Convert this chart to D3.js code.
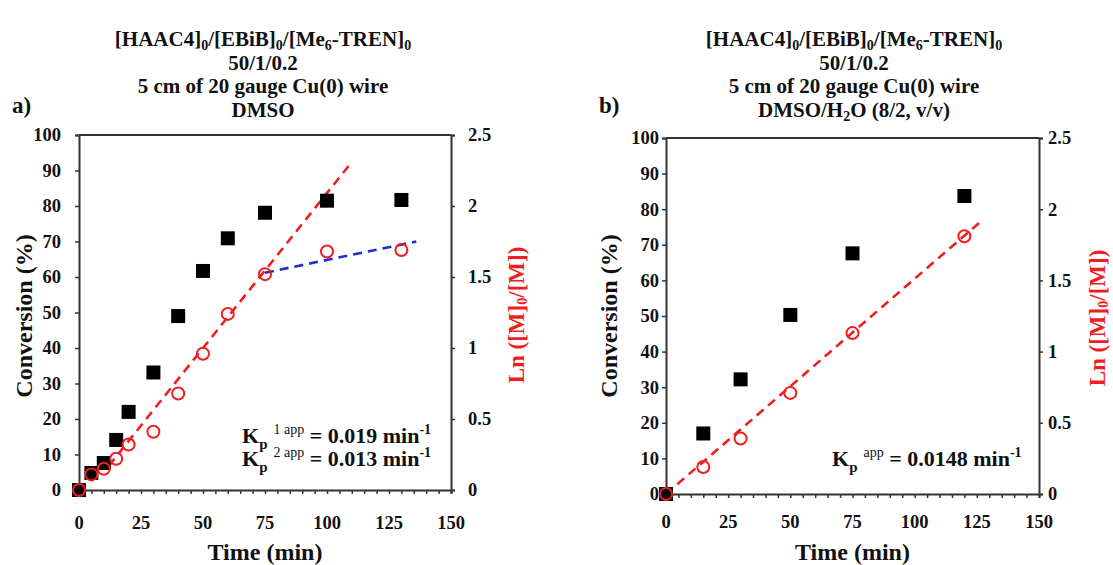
<!DOCTYPE html>
<html>
<head>
<meta charset="utf-8">
<script src="https://cdn.jsdelivr.net/npm/d3@7"></script>
<style>
  html, body { margin: 0; padding: 0; background: #fff; }
  svg { display: block; font-family: "Liberation Serif", "Times New Roman", serif; font-weight: bold; }
</style>
</head>
<body>
<svg id="chart" width="1113" height="565"></svg>
<script>
// ---- data: panel a (DMSO) ----
const timeA = [0, 5, 10, 15, 20, 30, 40, 50, 60, 75, 100, 130];
const convA = [0, 4.8, 7.6, 14.1, 22.0, 33.1, 49.0, 61.7, 70.9, 78.1, 81.5, 81.7];
const lnA   = [0, 0.11, 0.15, 0.22, 0.32, 0.41, 0.68, 0.96, 1.24, 1.52, 1.68, 1.69];
const fitA1Time = [12, 110];
const fitA1Ln   = [0.17, 2.31];
const fitA2Time = [75, 136];
const fitA2Ln   = [1.53, 1.75];

// ---- data: panel b (DMSO/H2O) ----
const timeB = [0, 15, 30, 50, 75, 120];
const convB = [0, 17.0, 32.2, 50.3, 67.6, 83.7];
const lnB   = [0, 0.19, 0.39, 0.71, 1.13, 1.81];
const fitBTime = [0, 127];
const fitBLn   = [0, 1.92];

// ---- ticks ----
const timeTicks = [0, 25, 50, 75, 100, 125, 150];
const convTicks = [0, 10, 20, 30, 40, 50, 60, 70, 80, 90, 100];
const lnTicks = [0, 0.5, 1, 1.5, 2, 2.5];
const lnTickLabels = ["0", "0.5", "1", "1.5", "2", "2.5"];

const svg = d3.select("#chart");
const RED = "#f01e1e", BLUE = "#1f2fd6", AXIS = "#333";

function drawPanel(p) {
  const x = d3.scaleLinear().domain([0, 150]).range([p.x0, p.x1]);
  const yC = d3.scaleLinear().domain([0, 100]).range([p.yB, p.yT]);
  const yL = d3.scaleLinear().domain([0, 2.5]).range([p.yB, p.yT]);
  const g = svg.append("g");

  // title block
  const title = g.append("text").attr("text-anchor", "middle").attr("font-size", 21).attr("fill", "#111");
  p.titleLines.forEach((parts, i) => {
    const line = title.append("tspan").attr("x", p.titleX).attr("y", p.titleY + i * 23.5);
    parts.forEach(seg => {
      if (typeof seg === "string") line.append("tspan").text(seg);
      else line.append("tspan").attr("font-size", 14).attr("baseline-shift", "-25%").text(seg.sub);
    });
  });
  g.append("text").attr("x", p.tagX).attr("y", p.tagY).attr("font-size", 23).attr("fill", "#111").text(p.tag);

  // frame: top edge
  g.append("line").attr("x1", p.x0).attr("x2", p.x1).attr("y1", p.yT).attr("y2", p.yT)
    .attr("stroke", AXIS).attr("stroke-width", 2);

  // axes
  const bottom = g.append("g").attr("transform", `translate(0,${p.yB})`)
    .call(d3.axisBottom(x).tickValues(d3.range(0, 151, 5)).tickSize(4).tickFormat(""));
  const left = g.append("g").attr("transform", `translate(${p.x0},0)`)
    .call(d3.axisLeft(yC).tickValues(convTicks).tickSize(4).tickFormat(""));
  const right = g.append("g").attr("transform", `translate(${p.x1},0)`)
    .call(d3.axisRight(yL).tickValues(lnTicks).tickSize(4).tickFormat(""));
  [bottom, left, right].forEach(a => {
    a.select(".domain").attr("stroke", AXIS).attr("stroke-width", 2);
    a.selectAll(".tick line").attr("stroke", AXIS).attr("stroke-width", 1.5);
  });

  // tick labels
  g.selectAll(null).data(timeTicks).join("text")
    .attr("x", d => x(d)).attr("y", p.xLabY).attr("text-anchor", "middle")
    .attr("font-size", 18.5).attr("fill", "#111").text(d => d);
  g.selectAll(null).data(convTicks).join("text")
    .attr("x", p.x0 - p.leftGap).attr("y", d => yC(d)).attr("dy", "0.35em").attr("text-anchor", "end")
    .attr("font-size", 18.5).attr("fill", "#111").text(d => d);
  g.selectAll(null).data(lnTicks).join("text")
    .attr("x", p.x1 + p.rightGap).attr("y", d => yL(d)).attr("dy", "0.35em")
    .attr("font-size", 18.5).attr("fill", "#111").text((d, i) => lnTickLabels[i]);

  // axis titles
  g.append("text").attr("x", (p.x0 + p.x1) / 2).attr("y", p.xTitleY).attr("text-anchor", "middle")
    .attr("font-size", 24).attr("fill", "#111").text("Time (min)");
  g.append("text").attr("transform", `translate(${p.convX},${p.convY}) rotate(-90)`)
    .attr("text-anchor", "middle").attr("font-size", 24).attr("fill", "#111").text("Conversion (%)");
  const ln = g.append("text").attr("transform", `translate(${p.lnX},${p.lnY}) rotate(-90)`)
    .attr("text-anchor", "middle").attr("font-size", 23).attr("fill", RED);
  ln.append("tspan").text("Ln ([M]");
  ln.append("tspan").attr("font-size", 14).attr("baseline-shift", "-20%").text("0");
  ln.append("tspan").text("/[M])");

  // fitted lines
  const line = d3.line().x(d => x(d[0])).y(d => yL(d[1]));
  p.fits.forEach(f => {
    g.append("path").datum(d3.zip(f.t, f.ln)).attr("d", line)
      .attr("fill", "none").attr("stroke", f.color).attr("stroke-width", 2.6)
      .attr("stroke-dasharray", "9,6");
  });

  // conversion: filled squares
  const s = 14;
  g.selectAll(null).data(d3.zip(p.time, p.conv)).join("rect")
    .attr("x", d => x(d[0]) - s / 2).attr("y", d => yC(d[1]) - s / 2)
    .attr("width", s).attr("height", s).attr("fill", "#000");

  // ln([M]0/[M]): open circles
  g.selectAll(null).data(d3.zip(p.time, p.ln)).join("circle")
    .attr("cx", d => x(d[0])).attr("cy", d => yL(d[1])).attr("r", 6)
    .attr("fill", "none").attr("stroke", RED).attr("stroke-width", 2);

  // rate constant annotation
  p.notes.forEach(n => {
    const t = g.append("text").attr("x", n.x).attr("y", n.y).attr("font-size", 22).attr("fill", "#111");
    t.append("tspan").text("K");
    t.append("tspan").attr("font-size", 15).attr("dy", 6).text("p");
    t.append("tspan").attr("font-size", 14).attr("font-weight", "normal").attr("dx", 6).attr("dy", -15).text(n.sup);
    t.append("tspan").attr("font-size", 22).attr("dy", 9).text(" = " + n.value + " min");
    t.append("tspan").attr("font-size", 14).attr("dy", -9).text("-1");
  });
}

drawPanel({
  x0: 79, x1: 451, yT: 135, yB: 490,
  time: timeA, conv: convA, ln: lnA,
  fits: [{ t: fitA1Time, ln: fitA1Ln, color: RED }, { t: fitA2Time, ln: fitA2Ln, color: BLUE }],
  titleX: 263, titleY: 46,
  titleLines: [
    ["[HAAC4]", { sub: "0" }, "/[EBiB]", { sub: "0" }, "/[Me", { sub: "6" }, "-TREN]", { sub: "0" }],
    ["50/1/0.2"], ["5 cm of 20 gauge Cu(0) wire"], ["DMSO"]
  ],
  tag: "a)", tagX: 12, tagY: 113,
  xLabY: 529, xTitleY: 560, leftGap: 18, rightGap: 17,
  convX: 32, convY: 316, lnX: 524, lnY: 315,
  notes: [
    { x: 242, y: 443, sup: "1 app", value: "0.019" },
    { x: 242, y: 466, sup: "2 app", value: "0.013" }
  ]
});

drawPanel({
  x0: 666, x1: 1039, yT: 138, yB: 494,
  time: timeB, conv: convB, ln: lnB,
  fits: [{ t: fitBTime, ln: fitBLn, color: RED }],
  titleX: 854, titleY: 46,
  titleLines: [
    ["[HAAC4]", { sub: "0" }, "/[EBiB]", { sub: "0" }, "/[Me", { sub: "6" }, "-TREN]", { sub: "0" }],
    ["50/1/0.2"], ["5 cm of 20 gauge Cu(0) wire"], ["DMSO/H", { sub: "2" }, "O (8/2, v/v)"]
  ],
  tag: "b)", tagX: 599, tagY: 113,
  xLabY: 528, xTitleY: 560, leftGap: 7, rightGap: 9,
  convX: 617, convY: 316, lnX: 1105, lnY: 318,
  notes: [
    { x: 832, y: 466, sup: "app", value: "0.0148" }
  ]
});
</script>
</body>
</html>
